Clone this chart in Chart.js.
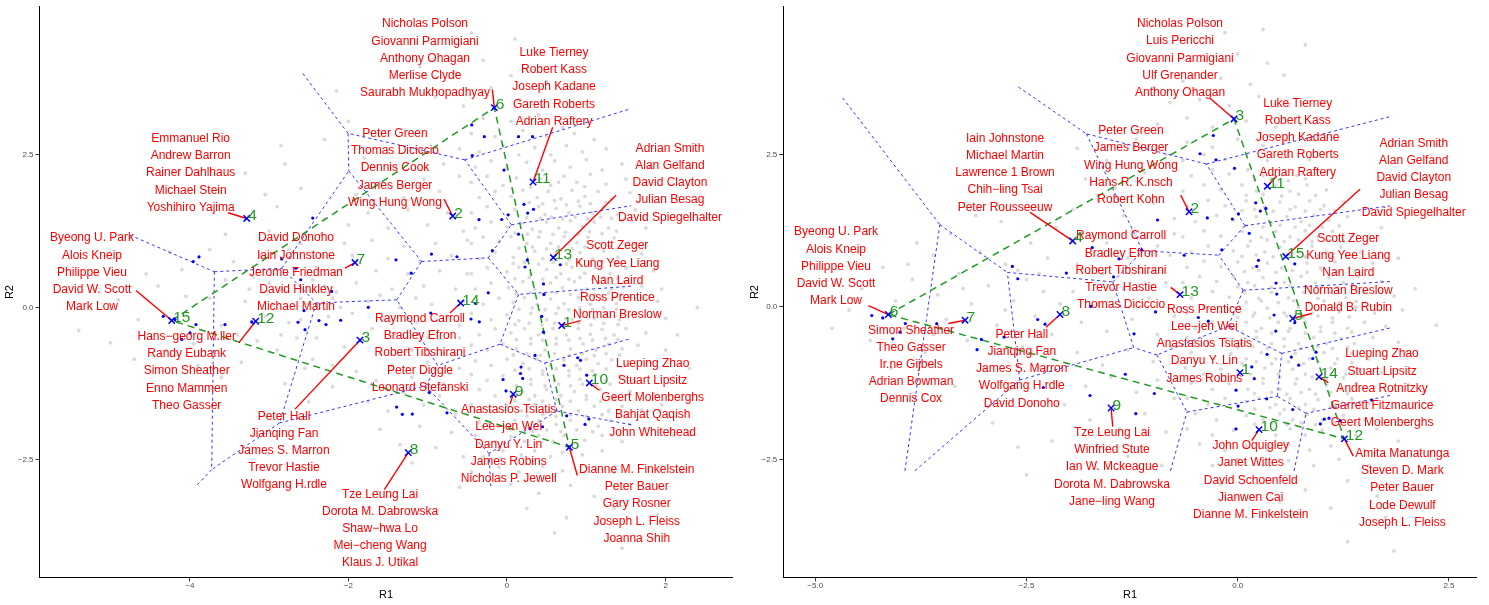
<!DOCTYPE html>
<html>
<head>
<meta charset="utf-8">
<script src="https://cdn.jsdelivr.net/npm/chart.js@4/dist/chart.umd.min.js"></script>
<style>
  body { margin: 0; background: #fff; width: 1489px; height: 605px; overflow: hidden; }
  canvas { position: absolute; top: 0; }
  #c1 { left: 0; }
  #c2 { left: 745px; }
</style>
</head>
<body>
<canvas id="c1" width="745" height="605"></canvas>
<canvas id="c2" width="744" height="605"></canvas>
<script>
const FAMILY = "'Liberation Sans', Arial, Helvetica, sans-serif";
const GREEN = '#229922';

// tick labels
const xTicks1 = [-4, -2, 0, 2];
const xTicks2 = [-5, -2.5, 0, 2.5];
const yTicks = [-2.5, 0, 2.5];

// cluster centres (R1, R2), cluster k is at index k-1
const centers1 = [
  [0.690, -0.299], [-0.685, 1.496], [-1.854, -0.538], [-3.282, 1.457], [0.786, -2.295],
  [-0.160, 3.274], [-1.917, 0.734], [-1.245, -2.382], [0.079, -1.424], [1.038, -1.240],
  [0.328, 2.055], [-3.169, -0.228], [0.584, 0.816], [-0.584, 0.070], [-4.228, -0.217]
];
const centers2 = [
  [0.027, -1.077], [-0.576, 1.561], [-0.044, 3.083], [-1.953, 1.083], [0.651, -0.189],
  [-4.135, -0.124], [-3.227, -0.217], [-2.103, -0.124], [-1.499, -1.657], [0.252, -2.011],
  [0.350, 1.980], [1.262, -2.163], [-0.683, 0.202], [0.962, -1.147], [0.568, 0.827]
];

// extreme clusters joined by the green triangle
const hull1 = [15, 6, 5];
const hull2 = [6, 3, 12];

// names per cluster
const names1 = [
  ['Scott Zeger', 'Kung Yee Liang', 'Nan Laird', 'Ross Prentice', 'Norman Breslow'],
  ['Peter Green', 'Thomas Diciccio', 'Dennis Cook', 'James Berger', 'Wing Hung Wong'],
  ['Peter Hall', 'Jianqing Fan', 'James S. Marron', 'Trevor Hastie', 'Wolfgang H.rdle'],
  ['Emmanuel Rio', 'Andrew Barron', 'Rainer Dahlhaus', 'Michael Stein', 'Yoshihiro Yajima'],
  ['Dianne M. Finkelstein', 'Peter Bauer', 'Gary Rosner', 'Joseph L. Fleiss', 'Joanna Shih'],
  ['Nicholas Polson', 'Giovanni Parmigiani', 'Anthony Ohagan', 'Merlise Clyde', 'Saurabh Mukhopadhyay'],
  ['David Donoho', 'Iain Johnstone', 'Jerome Friedman', 'David Hinkley', 'Michael Martin'],
  ['Tze Leung Lai', 'Dorota M. Dabrowska', 'Shaw\u2212hwa Lo', 'Mei\u2212cheng Wang', 'Klaus J. Utikal'],
  ['Anastasios Tsiatis', 'Lee\u2212jen Wei', 'Danyu Y. Lin', 'James Robins', 'Nicholas P. Jewell'],
  ['Lueping Zhao', 'Stuart Lipsitz', 'Geert Molenberghs', 'Bahjat Qaqish', 'John Whitehead'],
  ['Luke Tierney', 'Robert Kass', 'Joseph Kadane', 'Gareth Roberts', 'Adrian Raftery'],
  ['Hans\u2212georg M.ller', 'Randy Eubank', 'Simon Sheather', 'Enno Mammen', 'Theo Gasser'],
  ['Adrian Smith', 'Alan Gelfand', 'David Clayton', 'Julian Besag', 'David Spiegelhalter'],
  ['Raymond Carroll', 'Bradley Efron', 'Robert Tibshirani', 'Peter Diggle', 'Leonard Stefanski'],
  ['Byeong U. Park', 'Alois Kneip', 'Philippe Vieu', 'David W. Scott', 'Mark Low']
];
const names2 = [
  ['Ross Prentice', 'Lee\u2212jen Wei', 'Anastasios Tsiatis', 'Danyu Y. Lin', 'James Robins'],
  ['Peter Green', 'James Berger', 'Wing Hung Wong', 'Hans R. K.nsch', 'Robert Kohn'],
  ['Nicholas Polson', 'Luis Pericchi', 'Giovanni Parmigiani', 'Ulf Grenander', 'Anthony Ohagan'],
  ['Iain Johnstone', 'Michael Martin', 'Lawrence 1 Brown', 'Chih\u2212ling Tsai', 'Peter Rousseeuw'],
  ['Scott Zeger', 'Kung Yee Liang', 'Nan Laird', 'Norman Breslow', 'Donald B. Rubin'],
  ['Byeong U. Park', 'Alois Kneip', 'Philippe Vieu', 'David W. Scott', 'Mark Low'],
  ['Simon Sheather', 'Theo Gasser', 'Ir.ne Gijbels', 'Adrian Bowman', 'Dennis Cox'],
  ['Peter Hall', 'Jianqing Fan', 'James S. Marron', 'Wolfgang H.rdle', 'David Donoho'],
  ['Tze Leung Lai', 'Winfried Stute', 'Ian W. Mckeague', 'Dorota M. Dabrowska', 'Jane\u2212ling Wang'],
  ['John Oquigley', 'Janet Wittes', 'David Schoenfeld', 'Jianwen Cai', 'Dianne M. Finkelstein'],
  ['Luke Tierney', 'Robert Kass', 'Joseph Kadane', 'Gareth Roberts', 'Adrian Raftery'],
  ['Amita Manatunga', 'Steven D. Mark', 'Peter Bauer', 'Lode Dewulf', 'Joseph L. Fleiss'],
  ['Raymond Carroll', 'Bradley Efron', 'Robert Tibshirani', 'Trevor Hastie', 'Thomas Diciccio'],
  ['Lueping Zhao', 'Stuart Lipsitz', 'Andrea Rotnitzky', 'Garrett Fitzmaurice', 'Geert Molenberghs'],
  ['Adrian Smith', 'Alan Gelfand', 'David Clayton', 'Julian Besag', 'David Spiegelhalter']
];

// where each name block sits (centre of the middle line) and where its pointer starts
const labelPos1 = [
  [1.391, 0.440], [-1.412, 2.284], [-2.812, -2.349], [-3.989, 2.202], [1.636, -3.225],
  [-1.034, 4.078], [-2.661, 0.571], [-1.601, -3.630], [0.021, -2.246], [1.837, -1.484],
  [0.593, 3.610], [-4.039, -1.044], [2.055, 2.039], [-1.097, -0.750], [-5.233, 0.571]
];
const segStart1 = [
  [0.929, -0.217], [-0.794, 1.773], [-2.673, -1.669], [-3.518, 1.550], [0.887, -2.757],
  [-0.185, 3.568], [-2.043, 0.641], [-1.547, -2.990], [0.038, -1.587], [1.164, -1.359],
  [0.576, 2.953], [-3.383, -0.582], [1.374, 1.838], [-0.719, -0.093], [-4.678, 0.277]
];
const labelPos2 = [
  [-0.395, -0.604], [-1.263, 2.323], [-0.683, 4.078], [-2.754, 2.197], [1.309, 0.555],
  [-4.754, 0.664], [-3.866, -0.946], [-2.556, -1.016], [-1.488, -2.626], [0.154, -2.843],
  [0.710, 2.773], [1.948, -2.969], [-1.381, 0.599], [1.708, -1.338], [2.083, 2.116]
];
const segStart2 = [
  [0.027, -1.077], [-0.675, 1.834], [-0.328, 3.421], [-2.458, 1.550], [0.876, -0.108],
  [-4.371, 0.023], [-3.425, -0.271], [-2.269, -0.331], [-1.479, -1.962], [0.166, -2.191],
  [0.462, 2.148], [1.368, -2.447], [-0.793, 0.321], [1.072, -1.240], [1.447, 1.931]
];

// blue points (cluster members)
const blue1 = [
  [-3.884, 0.827], [-3.956, 0.750], [-2.450, 1.463], [-2.841, 0.794], [-2.661, 0.641], [-2.601, 0.452],
  [-2.211, 0.261], [-1.400, 0.778], [-1.749, 0.000], [-2.560, -0.054], [-2.635, -0.245], [-2.547, -0.367],
  [-2.371, -0.217], [-2.282, -0.282], [-2.097, -0.212], [-3.556, -0.282], [-3.922, -0.282], [-3.997, -0.419],
  [-4.102, -0.527], [-4.334, -0.147], [-4.187, -0.201], [-3.219, -0.240], [-1.391, -1.636], [-1.320, -1.754],
  [-1.194, -1.750], [-0.980, -1.398], [-0.757, -1.729], [-0.962, -0.093], [-0.454, -0.191], [-0.349, -0.237],
  [-0.397, 0.065], [-0.236, 0.237], [-0.050, -1.183], [-0.013, -1.370], [0.177, -0.979], [0.170, -1.085],
  [0.198, -1.166], [0.353, -0.788], [0.438, -0.147], [0.460, -0.408], [0.467, 0.212], [0.719, -0.951],
  [0.892, -0.827], [0.927, -0.869], [1.005, -1.113], [1.032, -1.832], [0.984, -1.920], [0.753, -1.778],
  [0.448, -1.958], [0.290, -1.990], [-0.445, 2.990], [-0.286, 2.798], [0.145, 2.798], [0.322, 2.798],
  [-0.438, 2.488], [-0.038, 2.251], [0.214, 1.688], [0.334, 1.607], [0.261, 1.546], [0.015, 1.517],
  [-0.066, 1.440], [-0.353, 1.439], [0.145, 1.199], [-0.185, 0.930], [-0.631, 0.829], [-0.952, 0.873],
  [-1.208, 0.560], [0.256, 0.775], [0.227, 0.661], [0.672, 0.698], [0.460, 0.383]
];
const blue2 = [
  [-4.331, -0.140], [-4.201, -0.179], [-4.083, -0.522], [-3.996, -0.413], [-3.934, -0.271], [-3.562, -0.274],
  [-3.085, -0.701], [-3.034, -0.532], [-2.766, -0.494], [-2.367, -0.206], [-2.280, -0.282], [-2.301, -1.321],
  [-1.748, -1.452], [-2.667, 0.664], [-2.603, 0.463], [-2.028, 0.555], [-1.722, 0.974], [-1.736, 0.011],
  [-1.470, 0.493], [-1.405, 0.790], [-0.289, 2.812], [-0.446, 2.512], [-0.257, 2.413], [-0.038, 2.274],
  [-0.949, 1.426], [-0.360, 1.460], [-0.064, 1.442], [0.009, 1.525], [0.213, 1.708], [0.267, 1.573],
  [0.333, 1.615], [0.136, 1.207], [-0.189, 0.936], [-0.633, 0.848], [0.246, 0.765], [0.225, 0.664],
  [0.675, 0.708], [0.453, 0.392], [0.462, 0.212], [-1.136, 0.936], [-0.973, -0.082], [-0.466, -0.173],
  [-0.348, -0.233], [-1.227, -0.440], [0.430, -0.132], [0.450, -0.396], [0.675, -0.258], [0.347, -0.777],
  [0.634, -0.821], [0.722, -0.954], [0.888, -0.845], [0.927, -0.742], [0.166, -0.984], [0.196, -1.176],
  [-0.020, -1.364], [-1.330, -1.103], [-0.987, -1.419], [-1.206, -1.750], [0.004, -1.625], [0.343, -1.506],
  [0.651, -1.682], [-0.020, -2.000], [0.978, -1.918], [1.024, -1.840], [1.080, -1.824], [1.211, -1.865],
  [1.586, -1.527]
];

// grey background points
const grey1 = [
  [-5.4, -0.38], [-5.0, -0.58], [-4.65, -0.2], [-4.9, 0.12], [-4.4, 0.35], [-4.1, 0.62], [-3.75, 0.95], [-4.3, -0.7],
  [-3.9, -0.95], [-3.6, -0.3], [-3.75, 0.15], [-4.55, 0.55], [-3.55, 0.45], [-4.05, 0.18], [-3.95, -0.6], [-4.7, -0.85],
  [-3.6, -1.15], [-4.25, 0.9], [-3.55, 1.2], [-5.2, 0.3],
  [-3.4, -0.45], [-3.3, 0.1], [-3.2, 0.5], [-3.1, 0.85], [-3.0, 1.25], [-2.9, -0.7], [-2.85, 0.3], [-2.75, -0.25],
  [-2.7, 0.65], [-2.6, 1.05], [-2.55, -1.0], [-2.5, 0.05], [-2.45, 0.45], [-2.4, -0.5], [-2.35, 0.85], [-2.3, 1.45],
  [-2.25, -0.15], [-2.2, -1.3], [-2.15, 0.25], [-2.1, 0.6], [-2.05, -0.65], [-3.35, -0.9], [-3.25, 1.5], [-3.05, -0.15],
  [-2.95, 0.05], [-2.8, -1.25], [-2.65, -0.5], [-2.6, 0.15], [-2.5, -1.55], [-2.35, 1.2], [-2.2, -0.95], [-2.1, 0.0],
  [-3.45, 0.75], [-3.15, -0.55], [-2.9, 1.65], [-2.75, 0.95], [-2.45, -0.85], [-2.3, 0.35], [-2.05, 1.05], [-3.0, 0.4],
  [-2.6, -0.2], [-2.4, 0.65], [-2.2, 0.15], [-2.85, -0.45], [-3.25, 0.3],
  [-2.85, 2.65], [-2.8, 2.35], [-3.3, 2.2], [-2.3, 2.75], [-2.15, 3.55], [-2.0, 3.05], [-2.6, 1.95], [-3.05, 1.85],
  [-1.8, 2.45], [-1.4, 2.3], [-1.1, 2.55], [-0.8, 2.35], [-0.6, 2.6], [-1.9, 1.85], [-1.6, 2.05], [-1.3, 1.8],
  [-1.05, 2.1], [-0.85, 1.9], [-0.6, 2.15], [-2.0, 1.35], [-1.75, 1.55], [-1.5, 1.3], [-1.25, 1.6], [-1.0, 1.35],
  [-0.75, 1.55], [-0.55, 1.25], [-1.95, 0.85], [-1.7, 1.1], [-1.5, 0.8], [-1.3, 1.0], [-1.1, 0.75], [-0.9, 1.05],
  [-0.7, 0.85], [-0.5, 1.1], [-1.9, 0.4], [-1.65, 0.6], [-1.45, 0.3], [-1.25, 0.55], [-1.05, 0.35], [-0.85, 0.6],
  [-0.65, 0.3], [-0.5, 0.55], [-1.6, 0.2], [-1.15, 0.15], [-1.95, -0.1], [-1.75, 0.1], [-1.55, -0.2], [-1.35, 0.0],
  [-1.15, -0.25], [-0.95, 0.05], [-0.75, -0.15], [-0.55, 0.1], [-0.6, -0.3], [-1.85, -0.55], [-1.6, -0.75], [-1.4, -0.45],
  [-1.2, -0.7], [-1.0, -0.5], [-0.8, -0.75], [-0.6, -0.5], [-1.7, -0.35], [-1.9, -1.05], [-1.65, -1.2], [-1.45, -0.95],
  [-1.2, -1.15], [-1.0, -0.9], [-0.8, -1.25], [-0.6, -1.0], [-1.75, -1.55], [-1.5, -1.7], [-1.3, -1.4], [-1.05, -1.6],
  [-0.85, -1.45], [-0.65, -1.75], [-1.6, -2.0], [-1.35, -2.25], [-1.1, -1.95], [-0.9, -2.3], [-0.7, -2.05], [-1.2, -2.55],
  [-0.55, -2.45],
  [-0.3, 3.1], [0.05, 3.05], [0.4, 3.15], [0.7, 2.95],
  [-0.45, 2.85], [-0.15, 2.8], [0.2, 2.9], [0.5, 2.8], [0.85, 2.85], [1.1, 2.75],
  [-0.35, 2.55], [-0.05, 2.65], [0.15, 2.5], [0.35, 2.62], [0.55, 2.5], [0.75, 2.65], [0.95, 2.55], [1.25, 2.6],
  [-0.4, 2.3], [-0.2, 2.4], [0.0, 2.28], [0.25, 2.38], [0.45, 2.25], [0.6, 2.4], [0.8, 2.3], [1.0, 2.42], [1.2, 2.25], [1.45, 2.35],
  [-0.45, 2.05], [-0.25, 2.15], [-0.05, 2.0], [0.12, 2.12], [0.42, 2.1], [0.55, 2.0], [0.72, 2.15], [0.88, 2.05], [1.05, 2.18],
  [1.25, 2.02], [1.5, 2.1],
  [-0.35, 1.8], [-0.15, 1.9], [0.05, 1.82], [0.2, 1.92], [0.38, 1.8], [0.52, 1.9], [0.68, 1.78], [0.82, 1.92], [0.98, 1.82],
  [1.15, 1.9], [1.32, 1.78], [1.55, 1.88],
  [-0.45, 1.55], [-0.25, 1.65], [0.1, 1.6], [0.4, 1.65], [0.48, 1.52], [0.62, 1.62], [0.78, 1.55], [0.92, 1.66], [1.08, 1.55],
  [1.22, 1.65], [1.4, 1.52], [1.62, 1.6],
  [-0.4, 1.3], [-0.2, 1.4], [0.0, 1.32], [0.18, 1.38], [0.32, 1.28], [0.5, 1.4], [0.65, 1.3], [0.8, 1.42], [0.95, 1.32],
  [1.1, 1.4], [1.28, 1.3], [1.45, 1.42],
  [-0.45, 1.05], [-0.3, 1.15], [-0.1, 1.08], [0.05, 1.16], [0.25, 1.05], [0.4, 1.15], [0.55, 1.05], [0.72, 1.16], [0.88, 1.06],
  [1.02, 1.15], [1.18, 1.04], [1.35, 1.14], [1.6, 1.05],
  [-0.35, 0.8], [-0.15, 0.9], [0.08, 0.82], [0.35, 0.92], [0.45, 0.8], [0.62, 0.9], [0.78, 0.78], [0.92, 0.9], [1.08, 0.8],
  [1.22, 0.92], [1.4, 0.82], [1.7, 0.88],
  [-0.45, 0.55], [-0.25, 0.65], [0.0, 0.58], [0.15, 0.66], [0.3, 0.55], [0.5, 0.62], [0.68, 0.55], [0.82, 0.66], [0.98, 0.56],
  [1.12, 0.65], [1.3, 0.55], [1.5, 0.64], [1.85, 0.6],
  [-0.4, 0.3], [-0.2, 0.4], [0.02, 0.32], [0.2, 0.42], [0.35, 0.3], [0.55, 0.4], [0.7, 0.32], [0.85, 0.42], [1.0, 0.3],
  [1.15, 0.4], [1.32, 0.3], [1.48, 0.42], [1.7, 0.35],
  [-0.3, 0.05], [-0.1, 0.15], [0.08, 0.08], [0.22, 0.16], [0.38, 0.05], [0.55, 0.14], [0.72, 0.06], [0.9, 0.16], [1.05, 0.05],
  [1.2, 0.15], [1.38, 0.06], [1.55, 0.16], [1.9, 0.1],
  [-0.45, -0.1], [-0.2, -0.2], [0.0, -0.12], [0.15, -0.22], [0.3, -0.1], [0.5, -0.2], [0.62, -0.1], [0.82, -0.2], [0.95, -0.08],
  [1.1, -0.18], [1.25, -0.1], [1.42, -0.2], [1.62, -0.12], [2.0, -0.18],
  [-0.35, -0.45], [-0.15, -0.35], [0.05, -0.42], [0.22, -0.35], [0.4, -0.45], [0.58, -0.35], [0.75, -0.45], [0.9, -0.35],
  [1.05, -0.44], [1.2, -0.36], [1.35, -0.45], [1.5, -0.35], [1.75, -0.42],
  [-0.45, -0.62], [-0.25, -0.7], [-0.05, -0.6], [0.12, -0.68], [0.3, -0.6], [0.48, -0.7], [0.62, -0.6], [0.8, -0.68],
  [0.96, -0.6], [1.12, -0.7], [1.28, -0.6], [1.45, -0.68], [1.65, -0.62], [2.0, -0.7],
  [-0.4, -0.88], [-0.2, -0.95], [0.0, -0.85], [0.2, -0.92], [0.38, -0.85], [0.55, -0.95], [0.72, -0.86], [0.88, -0.95],
  [1.0, -0.85], [1.15, -0.92], [1.32, -0.86], [1.5, -0.95], [1.8, -0.9],
  [-0.45, -1.1], [-0.25, -1.2], [-0.05, -1.12], [0.3, -1.18], [0.45, -1.1], [0.6, -1.2], [0.78, -1.12], [0.92, -1.18],
  [1.12, -1.1], [1.25, -1.2], [1.42, -1.12], [1.6, -1.2], [2.1, -1.15],
  [-0.35, -1.35], [-0.15, -1.45], [0.2, -1.38], [0.35, -1.45], [0.5, -1.35], [0.68, -1.45], [0.85, -1.38], [1.0, -1.45],
  [1.18, -1.35], [1.35, -1.45], [1.55, -1.38], [1.85, -1.42],
  [-0.45, -1.6], [-0.2, -1.7], [0.0, -1.62], [0.18, -1.7], [0.35, -1.6], [0.52, -1.7], [0.7, -1.62], [0.9, -1.7], [1.1, -1.62],
  [1.28, -1.7], [1.45, -1.62], [1.7, -1.68],
  [-0.35, -1.88], [-0.1, -1.95], [0.1, -1.85], [0.25, -1.95], [0.4, -1.86], [0.62, -1.92], [0.8, -1.85], [1.15, -1.95],
  [1.3, -1.86], [1.55, -1.92],
  [-0.4, -2.1], [-0.15, -2.2], [0.05, -2.12], [0.22, -2.2], [0.4, -2.1], [0.58, -2.2], [0.72, -2.1], [0.98, -2.18], [1.2, -2.1], [1.45, -2.2],
  [-0.3, -2.45], [-0.05, -2.35], [0.18, -2.42], [0.35, -2.35], [0.55, -2.45], [0.7, -2.38], [0.95, -2.42], [1.2, -2.35],
  [-0.45, -2.7], [-0.1, -2.62], [0.15, -2.7], [0.45, -2.6], [0.7, -2.68], [1.0, -2.62], [1.35, -2.7],
  [-0.6, -2.95], [0.05, -2.9], [0.4, -3.05], [0.8, -2.92], [1.1, -3.1], [0.25, -3.3], [0.75, -3.45], [1.35, -3.3], [0.6, -3.7],
  [1.45, -3.95], [1.9, -3.4], [2.2, -2.7],
  [-0.9, 3.45], [-0.55, 3.3], [-0.2, 3.6], [0.15, 3.4], [0.45, 3.3], [-0.65, 3.85], [-0.3, 4.05], [0.05, 3.8], [-1.1, 3.95],
  [0.1, 4.4], [-0.45, 4.5], [0.5, 3.7],
  [1.75, 1.3], [1.95, 0.3], [2.15, -0.45], [2.3, -1.0], [1.95, -1.6], [2.1, -2.1], [1.8, 2.3], [2.4, 0.0]
];
// extra points where the left cloud is densest
const greyCore1 = [
  [0.3, 1.97], [0.65, 2.05], [0.98, 1.98],
  [0.28, 1.72], [0.45, 1.7], [0.6, 1.75], [0.75, 1.68], [0.9, 1.74], [1.05, 1.7], [1.25, 1.72],
  [0.25, 1.47], [0.42, 1.46], [0.56, 1.48], [0.7, 1.45], [0.86, 1.48], [1.02, 1.45], [1.18, 1.48], [1.32, 1.46],
  [0.1, 1.22], [0.26, 1.2], [0.42, 1.24], [0.58, 1.2], [0.74, 1.23], [0.9, 1.2], [1.04, 1.24], [1.2, 1.21], [1.38, 1.25],
  [0.15, 0.97], [0.32, 0.99], [0.5, 0.96], [0.65, 0.99], [0.82, 0.96], [0.98, 0.99], [1.14, 0.96], [1.3, 0.99],
  [0.08, 0.72], [0.22, 0.74], [0.4, 0.71], [0.58, 0.74], [0.75, 0.71], [0.9, 0.74], [1.05, 0.71], [1.2, 0.74], [1.38, 0.72],
  [0.1, 0.47], [0.28, 0.49], [0.45, 0.46], [0.62, 0.49], [0.78, 0.46], [0.92, 0.49], [1.08, 0.46], [1.22, 0.49], [1.4, 0.47],
  [0.12, 0.22], [0.3, 0.24], [0.46, 0.21], [0.62, 0.24], [0.8, 0.21], [0.95, 0.24], [1.1, 0.21], [1.28, 0.24], [1.45, 0.22],
  [0.15, -0.03], [0.32, -0.01], [0.48, -0.04], [0.65, -0.01], [0.78, -0.04], [0.92, -0.01], [1.08, -0.04], [1.22, -0.01], [1.38, -0.03],
  [0.1, -0.28], [0.28, -0.26], [0.44, -0.29], [0.6, -0.26], [0.76, -0.29], [0.9, -0.26], [1.06, -0.29], [1.22, -0.26], [1.4, -0.28],
  [0.12, -0.53], [0.3, -0.51], [0.45, -0.54], [0.62, -0.51], [0.78, -0.54], [0.92, -0.51], [1.08, -0.54], [1.24, -0.51], [1.4, -0.53],
  [0.08, -0.78], [0.25, -0.76], [0.42, -0.79], [0.6, -0.76], [0.78, -0.79], [0.95, -0.76], [1.1, -0.79], [1.25, -0.76], [1.42, -0.78],
  [0.1, -1.03], [0.28, -1.01], [0.45, -1.04], [0.62, -1.01], [0.78, -1.04], [0.92, -1.01], [1.08, -1.04], [1.25, -1.01],
  [0.12, -1.28], [0.3, -1.26], [0.48, -1.29], [0.65, -1.26], [0.8, -1.29], [0.95, -1.26], [1.12, -1.29], [1.3, -1.26],
  [0.1, -1.53], [0.28, -1.51], [0.45, -1.54], [0.62, -1.51], [0.8, -1.54], [1.0, -1.51], [1.18, -1.54], [1.35, -1.51],
  [0.25, -1.78], [0.45, -1.76], [0.62, -1.79], [0.8, -1.76], [1.0, -1.79], [1.2, -1.76],
  [0.32, -2.03], [0.5, -2.01], [0.68, -2.04], [0.88, -2.01], [1.08, -2.04]
];
const grey2 = [
  [-4.8, -0.35], [-4.6, -0.05], [-4.45, 0.3], [-4.35, -0.55], [-4.2, 0.65], [-4.05, 0.1], [-3.95, -0.35], [-3.85, 0.45],
  [-3.7, -0.75], [-3.6, 0.85], [-3.55, 0.2], [-3.45, -0.2], [-3.4, 1.2], [-3.3, 0.55], [-3.2, -0.55], [-3.15, 0.05],
  [-3.05, 0.9], [-3.0, -1.0], [-2.95, 0.35], [-2.85, -0.3], [-2.8, 1.4], [-2.75, 0.7], [-2.7, -1.35], [-2.65, 0.1],
  [-2.55, -0.65], [-2.5, 0.45], [-2.45, 1.05], [-2.4, -0.15], [-2.35, -1.0], [-2.3, 0.25], [-2.25, 0.8], [-2.2, -0.45],
  [-2.15, 1.3], [-2.1, 0.05], [-2.05, -1.6], [-4.1, -1.0], [-3.8, 1.05], [-3.35, -1.3], [-3.1, 1.5], [-2.9, -1.9],
  [-2.6, -2.3], [-2.5, -2.75], [-2.2, -2.2], [-3.9, 0.7], [-4.5, 0.9], [-3.6, -0.45], [-3.25, 0.3], [-2.75, -0.05],
  [-2.6, 0.6], [-2.35, 0.55],
  [-1.9, 2.6], [-1.55, 2.4], [-1.2, 2.75], [-0.85, 2.5], [-1.8, 2.1], [-1.45, 1.95], [-1.1, 2.2], [-0.8, 2.0],
  [-1.95, 1.6], [-1.65, 1.75], [-1.35, 1.5], [-1.0, 1.7], [-0.75, 1.45], [-1.85, 1.2], [-1.55, 1.05], [-1.25, 1.25],
  [-0.95, 1.0], [-0.75, 1.2], [-1.9, 0.7], [-1.6, 0.55], [-1.3, 0.8], [-1.0, 0.6], [-0.8, 0.85], [-1.95, 0.25],
  [-1.65, 0.05], [-1.35, 0.3], [-1.05, 0.15], [-0.85, 0.4], [-1.85, -0.25], [-1.55, -0.4], [-1.25, -0.2], [-0.95, -0.45],
  [-0.75, -0.15], [-1.9, -0.75], [-1.6, -0.95], [-1.3, -0.7], [-1.0, -0.9], [-0.8, -0.65], [-1.8, -1.3], [-1.5, -1.15],
  [-1.2, -1.4], [-0.95, -1.2], [-0.75, -1.5], [-1.75, -1.85], [-1.4, -2.0], [-1.1, -1.75], [-0.85, -2.05], [-1.3, -2.45],
  [-0.9, -2.6], [-1.6, -2.3],
  [-0.6, 2.7], [-0.3, 2.62], [0.0, 2.75], [0.3, 2.65], [0.55, 2.72],
  [-0.65, 2.4], [-0.4, 2.5], [-0.15, 2.42], [0.1, 2.5], [0.35, 2.4], [0.6, 2.48], [0.85, 2.42],
  [-0.55, 2.15], [-0.3, 2.25], [-0.1, 2.18], [0.12, 2.25], [0.3, 2.15], [0.5, 2.24], [0.7, 2.16], [0.95, 2.24],
  [-0.65, 1.9], [-0.4, 2.0], [-0.2, 1.92], [0.05, 2.0], [0.22, 1.9], [0.45, 1.98], [0.62, 1.9], [0.82, 2.0], [1.05, 1.92],
  [-0.6, 1.65], [-0.35, 1.75], [-0.15, 1.66], [0.1, 1.74], [0.32, 1.64], [0.5, 1.72], [0.68, 1.64], [0.85, 1.74],
  [1.02, 1.66], [1.25, 1.72],
  [-0.5, 1.4], [-0.25, 1.5], [-0.05, 1.42], [0.22, 1.48], [0.4, 1.38], [0.58, 1.48], [0.75, 1.4], [0.9, 1.5], [1.08, 1.42], [1.3, 1.48],
  [-0.65, 1.15], [-0.4, 1.25], [-0.2, 1.16], [0.05, 1.24], [0.28, 1.14], [0.45, 1.24], [0.62, 1.15], [0.8, 1.25],
  [0.95, 1.15], [1.12, 1.24], [1.35, 1.16],
  [-0.55, 0.9], [-0.35, 1.0], [-0.05, 0.92], [0.12, 1.0], [0.32, 0.9], [0.5, 0.98], [0.72, 0.9], [0.88, 1.0], [1.05, 0.9],
  [1.22, 0.98], [1.45, 0.9],
  [-0.6, 0.65], [-0.4, 0.75], [-0.2, 0.66], [0.0, 0.74], [0.18, 0.64], [0.35, 0.72], [0.52, 0.64], [0.82, 0.72], [0.98, 0.64],
  [1.15, 0.74], [1.32, 0.64], [1.6, 0.72],
  [-0.65, 0.4], [-0.45, 0.5], [-0.25, 0.42], [-0.05, 0.5], [0.12, 0.4], [0.3, 0.48], [0.55, 0.4], [0.75, 0.5], [0.92, 0.4],
  [1.08, 0.48], [1.25, 0.4], [1.42, 0.5], [1.7, 0.42],
  [-0.55, 0.15], [-0.3, 0.25], [-0.1, 0.16], [0.08, 0.24], [0.25, 0.14], [0.4, 0.24], [0.6, 0.15], [0.78, 0.24], [0.95, 0.14],
  [1.1, 0.24], [1.28, 0.15], [1.5, 0.24], [1.85, 0.18],
  [-0.6, -0.1], [-0.4, 0.0], [-0.2, -0.08], [0.02, 0.0], [0.2, -0.1], [0.35, -0.02], [0.55, -0.1], [0.72, 0.0], [0.88, -0.1],
  [1.05, 0.0], [1.2, -0.08], [1.4, 0.0], [1.62, -0.1], [1.95, -0.05],
  [-0.5, -0.35], [-0.3, -0.25], [-0.1, -0.33], [0.1, -0.25], [0.28, -0.35], [0.48, -0.25], [0.62, -0.35], [0.8, -0.25],
  [0.98, -0.33], [1.12, -0.25], [1.3, -0.35], [1.5, -0.25], [1.75, -0.32],
  [-0.6, -0.5], [-0.35, -0.6], [-0.15, -0.52], [0.05, -0.6], [0.22, -0.5], [0.4, -0.6], [0.55, -0.52], [0.72, -0.6],
  [0.9, -0.5], [1.05, -0.6], [1.22, -0.52], [1.38, -0.6], [1.6, -0.5], [1.9, -0.58],
  [-0.55, -0.75], [-0.3, -0.85], [-0.08, -0.76], [0.1, -0.85], [0.28, -0.75], [0.45, -0.85], [0.68, -0.76], [0.85, -0.85],
  [1.02, -0.75], [1.18, -0.85], [1.35, -0.76], [1.55, -0.85],
  [-0.62, -1.0], [-0.4, -1.1], [-0.2, -1.02], [0.15, -1.1], [0.32, -1.0], [0.48, -1.1], [0.65, -1.02], [0.8, -1.1],
  [1.1, -1.0], [1.28, -1.1], [1.45, -1.02], [1.7, -1.08],
  [-0.55, -1.25], [-0.3, -1.35], [-0.1, -1.26], [0.12, -1.35], [0.3, -1.25], [0.5, -1.35], [0.68, -1.26], [0.85, -1.35],
  [1.05, -1.28], [1.22, -1.35], [1.4, -1.25], [1.62, -1.32],
  [-0.6, -1.5], [-0.35, -1.6], [-0.15, -1.5], [0.1, -1.55], [0.25, -1.5], [0.45, -1.6], [0.62, -1.5], [0.8, -1.6],
  [0.95, -1.52], [1.15, -1.6], [1.35, -1.5], [1.55, -1.58],
  [-0.5, -1.75], [-0.25, -1.85], [0.1, -1.78], [0.3, -1.85], [0.5, -1.75], [0.65, -1.85], [0.82, -1.76], [1.0, -1.85],
  [1.25, -1.78], [1.5, -1.85],
  [-0.6, -2.0], [-0.3, -2.1], [-0.05, -2.02], [0.45, -2.1], [0.62, -2.0], [0.8, -2.1], [1.0, -2.02], [1.4, -2.1], [1.65, -2.0],
  [-0.45, -2.25], [-0.15, -2.35], [0.1, -2.28], [0.35, -2.35], [0.6, -2.25], [0.85, -2.35], [1.1, -2.28], [1.5, -2.35],
  [-0.3, -2.6], [0.0, -2.5], [0.3, -2.6], [0.6, -2.52], [0.9, -2.6], [1.2, -2.5], [1.55, -2.6],
  [-0.2, -2.9], [0.4, -2.85], [0.8, -3.0], [1.3, -2.85], [1.65, -3.1], [1.1, -3.3], [1.75, -3.45], [1.3, -3.85], [1.85, -4.0], [0.5, -3.2],
  [-0.95, 3.0], [-0.6, 3.1], [-0.3, 2.95], [0.1, 3.05], [0.45, 2.95], [0.75, 3.0], [-0.8, 3.35], [-0.45, 3.4], [-0.1, 3.3],
  [0.25, 3.45], [0.6, 3.3], [-0.65, 3.7], [-0.2, 3.75], [0.15, 3.65], [0.55, 3.8], [-0.4, 4.05], [0.0, 4.15], [0.35, 4.0],
  [-0.15, 4.5], [0.3, 4.55], [0.8, 4.3], [-1.0, 3.6],
  [1.7, 1.3], [1.9, 0.8], [2.0, -0.75], [2.2, -1.4], [1.9, -2.2], [2.1, 0.3], [1.8, 1.9], [2.35, -0.3]
];
// extra points where the right cloud is densest
const greyCore2 = [
  [0.2, 2.08], [0.4, 2.1], [0.6, 2.07], [0.8, 2.1],
  [0.1, 1.83], [0.3, 1.85], [0.52, 1.82], [0.72, 1.85], [0.92, 1.83],
  [0.05, 1.58], [0.2, 1.6], [0.42, 1.57], [0.62, 1.6], [0.8, 1.57], [0.98, 1.6], [1.15, 1.58],
  [0.1, 1.33], [0.3, 1.31], [0.5, 1.34], [0.68, 1.31], [0.85, 1.34], [1.0, 1.31], [1.2, 1.33],
  [0.15, 1.08], [0.35, 1.1], [0.55, 1.07], [0.72, 1.1], [0.88, 1.07], [1.05, 1.1], [1.25, 1.08],
  [0.05, 0.83], [0.22, 0.85], [0.42, 0.82], [0.62, 0.85], [0.8, 0.82], [0.95, 0.85], [1.12, 0.82], [1.3, 0.84],
  [0.08, 0.58], [0.25, 0.6], [0.45, 0.57], [0.65, 0.6], [0.82, 0.57], [1.0, 0.6], [1.18, 0.57], [1.38, 0.59],
  [0.0, 0.33], [0.2, 0.35], [0.4, 0.32], [0.62, 0.35], [0.82, 0.32], [1.0, 0.35], [1.18, 0.32], [1.35, 0.34],
  [0.1, 0.08], [0.28, 0.1], [0.48, 0.07], [0.66, 0.1], [0.85, 0.07], [1.02, 0.1], [1.2, 0.07], [1.4, 0.09],
  [0.0, -0.17], [0.18, -0.15], [0.38, -0.18], [0.58, -0.15], [0.78, -0.18], [0.95, -0.15], [1.12, -0.18], [1.32, -0.16],
  [0.05, -0.42], [0.22, -0.4], [0.4, -0.43], [0.6, -0.4], [0.8, -0.43], [0.98, -0.4], [1.15, -0.43], [1.35, -0.41],
  [0.0, -0.67], [0.18, -0.65], [0.35, -0.68], [0.55, -0.65], [0.75, -0.68], [0.95, -0.65], [1.12, -0.68], [1.3, -0.66],
  [0.05, -0.92], [0.22, -0.9], [0.4, -0.93], [0.6, -0.9], [0.78, -0.93], [0.95, -0.9], [1.15, -0.93], [1.35, -0.91],
  [0.3, -1.17], [0.5, -1.15], [0.7, -1.18], [0.88, -1.15], [1.05, -1.18], [1.25, -1.16],
  [0.2, -1.42], [0.4, -1.4], [0.58, -1.43], [0.75, -1.4], [0.92, -1.43], [1.1, -1.4], [1.3, -1.42],
  [0.2, -1.67], [0.38, -1.65], [0.55, -1.68], [0.72, -1.65], [0.9, -1.68], [1.1, -1.65],
  [0.2, -1.92], [0.4, -1.9], [0.58, -1.93], [0.75, -1.9], [0.92, -1.93], [1.15, -1.9]
];

// Voronoi edges of the centres, clipped to their range widened by 10% on each side
function voronoiEdges(pts) {
  const xs = pts.map(p => p[0]), ys = pts.map(p => p[1]);
  const xlo = Math.min(...xs), xhi = Math.max(...xs), ylo = Math.min(...ys), yhi = Math.max(...ys);
  const fx = 0.1 * (xhi - xlo), fy = 0.1 * (yhi - ylo);
  const box = [xlo - fx, xhi + fx, ylo - fy, yhi + fy];
  const edges = [];
  for (let i = 0; i < pts.length; i++) {
    for (let j = i + 1; j < pts.length; j++) {
      const [ax, ay] = pts[i], [bx, by] = pts[j];
      const mx = (ax + bx) / 2, my = (ay + by) / 2;
      const dx = -(by - ay), dy = bx - ax;
      let tmin = -Infinity, tmax = Infinity;
      const clip = (cx, cy, c) => {
        const base = cx * mx + cy * my, slope = cx * dx + cy * dy;
        if (Math.abs(slope) < 1e-12) { if (base > c) tmin = Infinity; return; }
        const t = (c - base) / slope;
        if (slope > 0) tmax = Math.min(tmax, t); else tmin = Math.max(tmin, t);
      };
      for (let k = 0; k < pts.length; k++) {
        if (k === i || k === j) continue;
        const [kx, ky] = pts[k];
        clip(2 * (kx - ax), 2 * (ky - ay), kx * kx + ky * ky - ax * ax - ay * ay);
      }
      clip(1, 0, box[1]); clip(-1, 0, -box[0]); clip(0, 1, box[3]); clip(0, -1, -box[2]);
      if (tmax - tmin > 1e-9) {
        edges.push([[mx + tmin * dx, my + tmin * dy], [mx + tmax * dx, my + tmax * dy]]);
      }
    }
  }
  return edges;
}

const toXY = p => ({ x: p[0], y: p[1] });
const fmt = (v, d) => v.toFixed(d).replace('-', '\u2212');

function overlay(centers, names, labelPos) {
  return {
    id: 'overlay',
    afterDatasetsDraw(chart) {
      const { ctx } = chart;
      const xs = chart.scales.x, ys = chart.scales.y;
      ctx.save();
      ctx.fillStyle = '#ff0000';
      ctx.font = '12px ' + FAMILY;
      ctx.textAlign = 'center';
      ctx.textBaseline = 'middle';
      names.forEach((lines, i) => {
        const px = xs.getPixelForValue(labelPos[i][0]);
        const py = ys.getPixelForValue(labelPos[i][1]);
        lines.forEach((t, j) => ctx.fillText(t, px, py + (j - 2) * 17.2));
      });
      ctx.fillStyle = GREEN;
      ctx.font = '15.5px ' + FAMILY;
      ctx.textAlign = 'left';
      ctx.textBaseline = 'alphabetic';
      centers.forEach((c, i) => {
        ctx.fillText(String(i + 1), xs.getPixelForValue(c[0]) + 1.5, ys.getPixelForValue(c[1]) + 1.5);
      });
      ctx.restore();
    }
  };
}

function makePanel(id, p) {
  const datasets = [];
  datasets.push({ data: p.grey.map(toXY), pointRadius: 1.9, pointBackgroundColor: '#dadada', pointBorderWidth: 0, order: 6 });
  voronoiEdges(p.centers).forEach(seg => datasets.push({
    data: seg.map(toXY), showLine: true, pointRadius: 0,
    borderColor: '#0000ff', borderWidth: 0.8, borderDash: [3, 3], order: 5
  }));
  datasets.push({
    data: p.hull.concat([p.hull[0]]).map(k => toXY(p.centers[k - 1])), showLine: true, pointRadius: 0,
    borderColor: GREEN, borderWidth: 1.5, borderDash: [7, 5], order: 4
  });
  datasets.push({ data: p.blue.map(toXY), pointRadius: 1.6, pointBackgroundColor: '#0000ff', pointBorderWidth: 0, order: 3 });
  p.centers.forEach((c, i) => datasets.push({
    data: [toXY(p.segStart[i]), toXY(c)], showLine: true, pointRadius: 0,
    borderColor: '#ff0000', borderWidth: 1.4, order: 2
  }));
  datasets.push({
    data: p.centers.map(toXY), pointStyle: 'crossRot', pointRadius: 4.5,
    pointBorderColor: '#0000ff', pointBorderWidth: 1.5, order: 1
  });

  const tickFont = { size: 8, family: FAMILY };
  new Chart(document.getElementById(id), {
    type: 'scatter',
    data: { datasets },
    options: {
      responsive: false,
      animation: false,
      events: [],
      devicePixelRatio: 1,
      layout: { padding: { left: 0, right: 12.3, top: 4, bottom: 0 } },
      plugins: { legend: { display: false }, tooltip: { enabled: false } },
      scales: {
        x: {
          type: 'linear', min: p.xMin, max: p.xMax,
          afterBuildTicks: s => { s.ticks = p.xTicks.map(v => ({ value: v })); },
          afterFit: s => { s.height = 27.7; },
          ticks: { callback: v => fmt(v, p.xDigits), color: '#4d4d4d', font: tickFont, padding: 0, maxRotation: 0, autoSkip: false },
          grid: { drawOnChartArea: false, drawTicks: true, tickLength: 4, tickColor: '#333333', tickWidth: 1 },
          border: { display: true, color: '#000000', width: 1 },
          title: { display: true, text: 'R1', color: '#000000', font: { size: 11, family: FAMILY }, padding: { top: 0, bottom: 3 } }
        },
        y: {
          type: 'linear', min: p.yMin, max: p.yMax,
          afterBuildTicks: s => { s.ticks = yTicks.map(v => ({ value: v })); },
          afterFit: s => { s.width = p.yWidth; },
          ticks: { callback: v => fmt(v, 1), color: '#4d4d4d', font: tickFont, padding: 2, autoSkip: false },
          grid: { drawOnChartArea: false, drawTicks: true, tickLength: 4, tickColor: '#333333', tickWidth: 1 },
          border: { display: true, color: '#000000', width: 1 },
          title: { display: true, text: 'R2', color: '#000000', font: { size: 11, family: FAMILY }, padding: { top: 3, bottom: 0 } }
        }
      }
    },
    plugins: [overlay(p.centers, p.names, p.labelPos)]
  });
}

makePanel('c1', {
  grey: grey1.concat(greyCore1), blue: blue1, centers: centers1, hull: hull1, segStart: segStart1,
  names: names1, labelPos: labelPos1, xTicks: xTicks1, xDigits: 0,
  xMin: -5.895, xMax: 2.846, yMin: -4.426, yMax: 4.927, yWidth: 39.5
});
makePanel('c2', {
  grey: grey2.concat(greyCore2), blue: blue2, centers: centers2, hull: hull2, segStart: segStart2,
  names: names2, labelPos: labelPos2, xTicks: xTicks2, xDigits: 1,
  xMin: -5.378, xMax: 2.828, yMin: -4.433, yMax: 4.922, yWidth: 38.3
});
</script>
</body>
</html>
